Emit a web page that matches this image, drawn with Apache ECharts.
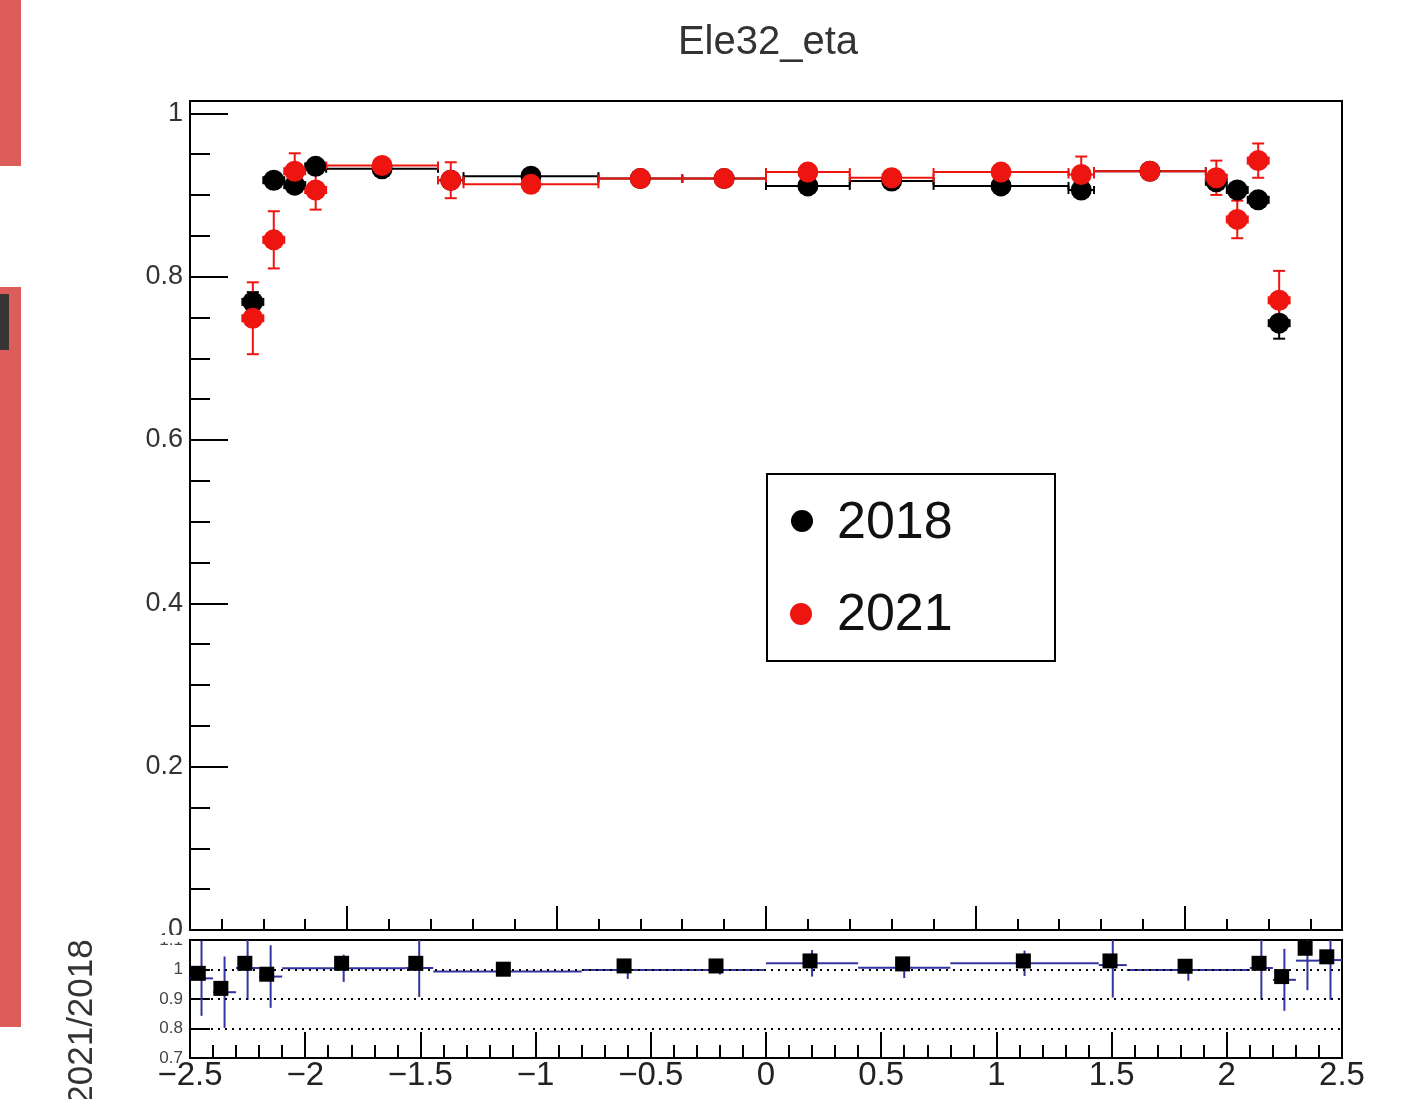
<!DOCTYPE html>
<html>
<head>
<meta charset="utf-8">
<title>Ele32_eta</title>
<script src="https://cdn.jsdelivr.net/npm/echarts@6.0.0/dist/echarts.min.js"></script>
<style>
  html, body { margin: 0; padding: 0; background: #fff; }
  #chart { width: 1420px; height: 1099px; }
</style>
</head>
<body>
<div id="chart"></div>
<script>
// eta bins (the 1.4442-1.566 bin is the barrel/endcap crack)
const binEdges = [-2.5, -2.4, -2.3, -2.2, -2.1, -1.566, -1.4442, -0.8, -0.4, 0, 0.4, 0.8, 1.4442, 1.566, 2.1, 2.2, 2.3, 2.4, 2.5];

const eff2018 = [0.769, 0.918, 0.912, 0.935, 0.932, 0.918, 0.923, 0.920, 0.920, 0.911, 0.917, 0.911, 0.906, 0.929, 0.916, 0.906, 0.894, 0.743];
const err2018 = [0.012, 0.006, 0.006, 0.006, 0.003, 0.006, 0.003, 0.003, 0.003, 0.003, 0.003, 0.003, 0.006, 0.003, 0.006, 0.006, 0.008, 0.019];
const eff2021 = [0.749, 0.845, 0.929, 0.906, 0.936, 0.918, 0.913, 0.920, 0.920, 0.928, 0.921, 0.928, 0.925, 0.929, 0.921, 0.870, 0.942, 0.771];
const err2021 = [0.044, 0.035, 0.022, 0.024, 0.008, 0.022, 0.007, 0.007, 0.007, 0.007, 0.007, 0.007, 0.022, 0.008, 0.021, 0.023, 0.021, 0.036];

// ratio panel: black squares and the blue histogram
const ratioX = [-2.464, -2.366, -2.262, -2.167, -1.842, -1.52, -1.14, -0.616, -0.217, 0.191, 0.593, 1.117, 1.493, 1.819, 2.14, 2.238, 2.34, 2.434];
const ratioPts = [0.987, 0.936, 1.021, 0.984, 1.021, 1.021, 1.001, 1.012, 1.012, 1.029, 1.019, 1.029, 1.029, 1.011, 1.021, 0.976, 1.072, 1.043];
const ratioHist = [0.970, 0.923, 1.005, 0.976, 1.004, 1.005, 0.993, 0.998, 0.998, 1.021, 1.006, 1.021, 1.015, 0.998, 1.005, 0.965, 1.030, 1.032];
const ratioHistErr = [0.127, 0.121, 0.108, 0.106, 0.046, 0.098, 0.015, 0.030, 0.015, 0.045, 0.035, 0.043, 0.110, 0.036, 0.107, 0.105, 0.100, 0.135];

// ticks
const topXMajor = [-2, -1, 0, 1, 2];
const topXMinor = [-2.6, -2.4, -2.2, -1.8, -1.6, -1.4, -1.2, -0.8, -0.6, -0.4, -0.2, 0.2, 0.4, 0.6, 0.8, 1.2, 1.4, 1.6, 1.8, 2.2, 2.4, 2.6];
const topYMajor = [0, 0.2, 0.4, 0.6, 0.8, 1];
const topYMinor = [0.05, 0.1, 0.15, 0.25, 0.3, 0.35, 0.45, 0.5, 0.55, 0.65, 0.7, 0.75, 0.85, 0.9, 0.95];
const ratioGuides = [0.8, 0.9, 1];

const FONT = '"Liberation Sans", Arial, Helvetica, sans-serif';
const RED = '#ee1510';
const BLUE = '#3434a0';

const graphData = (eff, err) => eff.map((v, i) => {
  const lo = binEdges[i], hi = binEdges[i + 1];
  return [lo, hi, (lo + hi) / 2, v, err[i]];
});
const histData = ratioHist.map((v, i) => {
  const lo = binEdges[i], hi = binEdges[i + 1];
  return [lo, hi, (lo + hi) / 2, v, ratioHistErr[i]];
});

function seg(x1, y1, x2, y2, style) {
  return { type: 'line', shape: { x1, y1, x2, y2 }, style };
}

// TGraphErrors style: bin-width bar with end ticks, vertical error with caps
function graphErrors(color) {
  return function (params, api) {
    const lo = api.value(0), hi = api.value(1), c = api.value(2), y = api.value(3), e = api.value(4);
    const a = api.coord([lo, y]), b = api.coord([hi, y]);
    const t = api.coord([c, y + e]), d = api.coord([c, y - e]);
    const s = { stroke: color, lineWidth: 2 };
    return {
      type: 'group',
      children: [
        seg(a[0], a[1], b[0], b[1], s),
        seg(a[0], a[1] - 4, a[0], a[1] + 4, s),
        seg(b[0], b[1] - 4, b[0], b[1] + 4, s),
        seg(t[0], t[1], d[0], d[1], s),
        seg(t[0] - 6, t[1], t[0] + 6, t[1], s),
        seg(d[0] - 6, d[1], d[0] + 6, d[1], s)
      ]
    };
  };
}

function histErrors(params, api) {
  const lo = api.value(0), hi = api.value(1), c = api.value(2), y = api.value(3), e = api.value(4);
  const a = api.coord([lo, y]), b = api.coord([hi, y]);
  const t = api.coord([c, y + e]), d = api.coord([c, y - e]);
  const s = { stroke: BLUE, lineWidth: 2 };
  return {
    type: 'group',
    children: [seg(a[0], a[1], b[0], b[1], s), seg(t[0], t[1], d[0], d[1], s)]
  };
}

const fmtNum = v => String(parseFloat(Number(v).toFixed(3))).replace('-', '\u2212');

const tickStyle = { color: '#000', width: 2 };
const noLine = { show: false, onZero: false };

const myChart = echarts.init(document.getElementById('chart'));

const option = {
  animation: false,
  backgroundColor: '#fff',
  title: {
    text: 'Ele32_eta',
    left: 763,
    textAlign: 'center',
    top: 18,
    textStyle: { fontFamily: FONT, fontSize: 40, fontWeight: 'normal', color: '#333' }
  },
  grid: [
    { left: 190, top: 101, width: 1152, height: 829, show: true, borderColor: '#000', borderWidth: 2, backgroundColor: 'transparent' },
    { left: 190, top: 940, width: 1152, height: 118, show: true, borderColor: '#000', borderWidth: 2, backgroundColor: 'transparent' }
  ],
  xAxis: [
    {
      gridIndex: 0, type: 'value', min: -2.75, max: 2.75, position: 'bottom',
      axisLine: noLine, splitLine: { show: false }, axisLabel: { show: false },
      axisTick: { inside: true, length: 24, lineStyle: tickStyle, customValues: topXMajor }
    },
    {
      gridIndex: 0, type: 'value', min: -2.75, max: 2.75, position: 'bottom',
      axisLine: noLine, splitLine: { show: false }, axisLabel: { show: false },
      axisTick: { inside: true, length: 11, lineStyle: tickStyle, customValues: topXMinor }
    },
    {
      gridIndex: 1, type: 'value', min: -2.5, max: 2.5, interval: 0.5, position: 'bottom',
      axisLine: noLine, splitLine: { show: false },
      axisTick: { inside: true, length: 26, lineStyle: tickStyle },
      minorTick: { show: true, splitNumber: 5, length: 13, lineStyle: tickStyle },
      axisLabel: {
        fontFamily: FONT, fontSize: 33, color: '#222', margin: 1,
        showMinLabel: true, showMaxLabel: true, formatter: fmtNum
      }
    }
  ],
  yAxis: [
    {
      gridIndex: 0, type: 'value', min: 0, max: 1.015, position: 'left',
      axisLine: noLine, splitLine: { show: false },
      axisTick: { inside: true, length: 38, lineStyle: tickStyle, customValues: topYMajor },
      axisLabel: { customValues: topYMajor, fontFamily: FONT, fontSize: 27, color: '#333', margin: 7, formatter: fmtNum }
    },
    {
      gridIndex: 0, type: 'value', min: 0, max: 1.015, position: 'left',
      axisLine: noLine, splitLine: { show: false }, axisLabel: { show: false },
      axisTick: { inside: true, length: 20, lineStyle: tickStyle, customValues: topYMinor }
    },
    {
      gridIndex: 1, type: 'value', min: 0.7, max: 1.1, interval: 0.1, position: 'left',
      axisLine: noLine, splitLine: { show: false },
      axisTick: { inside: true, length: 20, lineStyle: tickStyle },
      axisLabel: { fontFamily: FONT, fontSize: 17, color: '#444', margin: 7, formatter: fmtNum }
    }
  ],
  series: [
    {
      name: '2018 errors', type: 'custom', xAxisIndex: 0, yAxisIndex: 0,
      renderItem: graphErrors('#000'), data: graphData(eff2018, err2018),
      encode: { x: [0, 1], y: [3] }, silent: true
    },
    {
      name: '2018', type: 'scatter', xAxisIndex: 0, yAxisIndex: 0, symbol: 'circle', symbolSize: 21,
      itemStyle: { color: '#000', opacity: 1 },
      data: graphData(eff2018, err2018).map(d => [d[2], d[3]])
    },
    {
      name: '2021 errors', type: 'custom', xAxisIndex: 0, yAxisIndex: 0,
      renderItem: graphErrors(RED), data: graphData(eff2021, err2021),
      encode: { x: [0, 1], y: [3] }, silent: true
    },
    {
      name: '2021', type: 'scatter', xAxisIndex: 0, yAxisIndex: 0, symbol: 'circle', symbolSize: 21,
      itemStyle: { color: RED, opacity: 1 },
      data: graphData(eff2021, err2021).map(d => [d[2], d[3]])
    },
    {
      name: 'ratio hist', type: 'custom', xAxisIndex: 2, yAxisIndex: 2, clip: true,
      renderItem: histErrors, data: histData, encode: { x: [0, 1], y: [3] }, silent: true
    },
    {
      name: '2021/2018', type: 'scatter', xAxisIndex: 2, yAxisIndex: 2, symbol: 'rect', symbolSize: 15,
      itemStyle: { color: '#000', opacity: 1 },
      data: ratioX.map((x, i) => [x, ratioPts[i]]),
      markLine: {
        silent: true, symbol: ['none', 'none'], label: { show: false },
        lineStyle: { color: '#000', width: 2, type: [2, 5] },
        data: ratioGuides.map(v => ({ yAxis: v }))
      }
    }
  ],
  graphic: [
    // red marks along the left edge of the screenshot
    { type: 'rect', shape: { x: 0, y: 0, width: 21, height: 166 }, style: { fill: '#dd5d5b' }, z: 60 },
    { type: 'rect', shape: { x: 0, y: 287, width: 21, height: 740 }, style: { fill: '#dd5d5b' }, z: 60 },
    { type: 'rect', shape: { x: 0, y: 294, width: 9, height: 56 }, style: { fill: '#3a3535' }, z: 61 },
    // pad boundary clipping the "0" and "1.1" labels
    { type: 'rect', shape: { x: 130, y: 935, width: 58, height: 7 }, style: { fill: '#fff' }, z: 60 },
    // ratio axis title
    {
      type: 'text', x: 82, y: 1022, rotation: Math.PI / 2, z: 60,
      style: { text: '2021/2018', fontFamily: FONT, fontSize: 35, fill: '#333',
        align: 'center', verticalAlign: 'middle', textAlign: 'center', textVerticalAlign: 'middle' }
    },
    // legend box
    { type: 'rect', shape: { x: 767, y: 474, width: 288, height: 187 }, style: { fill: '#fff', stroke: '#000', lineWidth: 2 }, z: 50 },
    { type: 'circle', shape: { cx: 802, cy: 521, r: 11 }, style: { fill: '#000' }, z: 51 },
    {
      type: 'text', x: 837, y: 524, z: 51,
      style: { text: '2018', fontFamily: FONT, fontSize: 52, fill: '#111',
        verticalAlign: 'middle', textVerticalAlign: 'middle' }
    },
    { type: 'circle', shape: { cx: 801, cy: 614, r: 11 }, style: { fill: RED }, z: 51 },
    {
      type: 'text', x: 837, y: 616, z: 51,
      style: { text: '2021', fontFamily: FONT, fontSize: 52, fill: '#111',
        verticalAlign: 'middle', textVerticalAlign: 'middle' }
    }
  ]
};

myChart.setOption(option);
window.addEventListener('resize', function () {
  myChart.resize();
});
</script>
</body>
</html>
